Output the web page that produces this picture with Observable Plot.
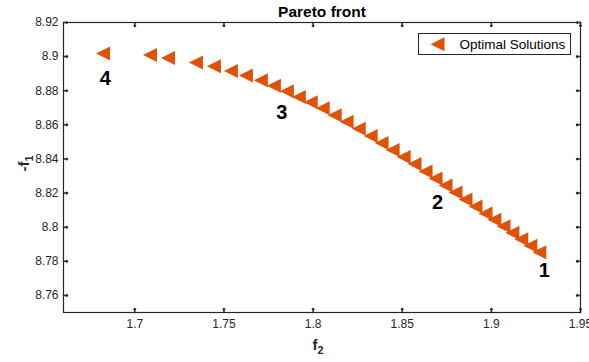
<!DOCTYPE html>
<html><head><meta charset="utf-8">
<script src="https://cdn.jsdelivr.net/npm/d3@7"></script>
<script src="https://cdn.jsdelivr.net/npm/@observablehq/plot@0.6"></script>
<style>
body{margin:0;background:#fff;}
#chart{width:589px;height:362px;}
svg text{font-family:"Liberation Sans",Arial,sans-serif;}
</style>
</head><body><div id="chart"></div>
<script>
// Pareto front solutions (f2, -f1)
const f2 = [1.6822,1.7085,1.7186,1.7343,1.7444,1.7539,1.7623,1.7707,1.7780,1.7853,1.7920,1.7987,1.8054,1.8121,1.8188,1.8256,1.8323,1.8384,1.8446,1.8508,1.8569,1.8631,1.8687,1.8743,1.8799,1.8855,1.8911,1.8967,1.9017,1.9068,1.9118,1.9168,1.9219,1.9269];
const negF1 = [8.9019,8.9010,8.8992,8.8966,8.8943,8.8916,8.8890,8.8861,8.8829,8.8797,8.8764,8.8732,8.8697,8.8656,8.8618,8.8577,8.8534,8.8493,8.8452,8.8411,8.8370,8.8326,8.8285,8.8244,8.8203,8.8162,8.8122,8.8081,8.8043,8.8005,8.7967,8.7929,8.7891,8.7853];
// numbered annotations
const labelText = ["4","3","2","1"];
const labelF2 = [1.6834,1.7825,1.8698,1.9297];
const labelNegF1 = [8.8873,8.8674,8.8142,8.7744];
// ticks
const xTicks = [1.7,1.75,1.8,1.85,1.9,1.95];
const yTicks = [8.76,8.78,8.8,8.82,8.84,8.86,8.88,8.9,8.92];

const points = f2.map((x,i)=>({x, y:negF1[i]}));
const labels = labelText.map((t,i)=>({t, x:labelF2[i], y:labelNegF1[i]}));
const orange = "#DF5208";
const ink = "#262626";
const fmt = d => String(+d.toFixed(2));
const leftTriangle = {draw(ctx, size){ const r = Math.sqrt(size/Math.PI); ctx.moveTo(-r,0); ctx.lineTo(r,-r); ctx.lineTo(r,r); ctx.closePath(); }};

const chart = Plot.plot({
  width:589, height:362,
  marginLeft:63, marginRight:9, marginTop:22, marginBottom:50,
  style:{fontFamily:"Liberation Sans, Arial, sans-serif", background:"#fff", color:ink},
  x:{domain:[1.66,1.95]},
  y:{domain:[8.75,8.92]},
  marks:[
    Plot.axisX({ticks:xTicks, tickSize:0, tickPadding:7, fontSize:12, tickFormat:fmt, label:null, fill:ink}),
    Plot.axisY({ticks:yTicks, tickSize:0, tickPadding:5, fontSize:12, tickFormat:fmt, label:null, fill:ink}),
    Plot.vector(xTicks, {x:d=>d, frameAnchor:"bottom", length:4, rotate:0, anchor:"start", stroke:ink}),
    Plot.vector(xTicks, {x:d=>d, frameAnchor:"top", length:4, rotate:180, anchor:"start", stroke:ink}),
    Plot.vector(yTicks, {y:d=>d, frameAnchor:"left", length:4, rotate:90, anchor:"start", stroke:ink}),
    Plot.vector(yTicks, {y:d=>d, frameAnchor:"right", length:4, rotate:270, anchor:"start", stroke:ink}),
    Plot.frame({stroke:ink, strokeWidth:1.2}),
    Plot.dot(points, {x:"x", y:"y", symbol:leftTriangle, r:7, fill:orange, stroke:"none"}),
    Plot.text(labels, {x:"x", y:"y", text:"t", fontSize:20, fontWeight:"bold", fill:"#000"}),
    Plot.text(["Pareto front"], {frameAnchor:"top", lineAnchor:"middle", dy:-10, fontSize:15.5, fontWeight:"bold", fill:"#000"}),
    Plot.text(["f"], {frameAnchor:"bottom", lineAnchor:"middle", dy:33, dx:-4, fontSize:15, fontWeight:"bold", fill:ink, className:"xlab"}),
    Plot.text(["-f"], {frameAnchor:"left", lineAnchor:"middle", dx:-39, dy:4, rotate:-90, fontSize:15, fontWeight:"bold", fill:ink, className:"ylab"}),
    Plot.dot([0], {frameAnchor:"top-right", dx:-143, dy:21.7, symbol:leftTriangle, r:7, fill:orange, stroke:"none"}),
    Plot.text(["Optimal Solutions"], {frameAnchor:"top-right", lineAnchor:"middle", dx:-121, dy:21.7, textAnchor:"start", fontSize:13.5, fill:"#000"})
  ]
});
const svg = d3.select(chart);
// subscripts on axis labels
svg.selectAll(".xlab text").append("tspan").attr("font-size","0.72em").attr("dy","0.35em").text("2");
svg.selectAll(".ylab text").append("tspan").attr("font-size","0.72em").attr("dy","0.35em").text("1");
// legend box, behind everything
svg.insert("rect", ":first-child")
  .attr("x",418.5).attr("y",33.5).attr("width",152).attr("height",21)
  .attr("fill","#fff").attr("stroke",ink).attr("stroke-width",1);
document.getElementById("chart").append(chart);
</script>
</body></html>
